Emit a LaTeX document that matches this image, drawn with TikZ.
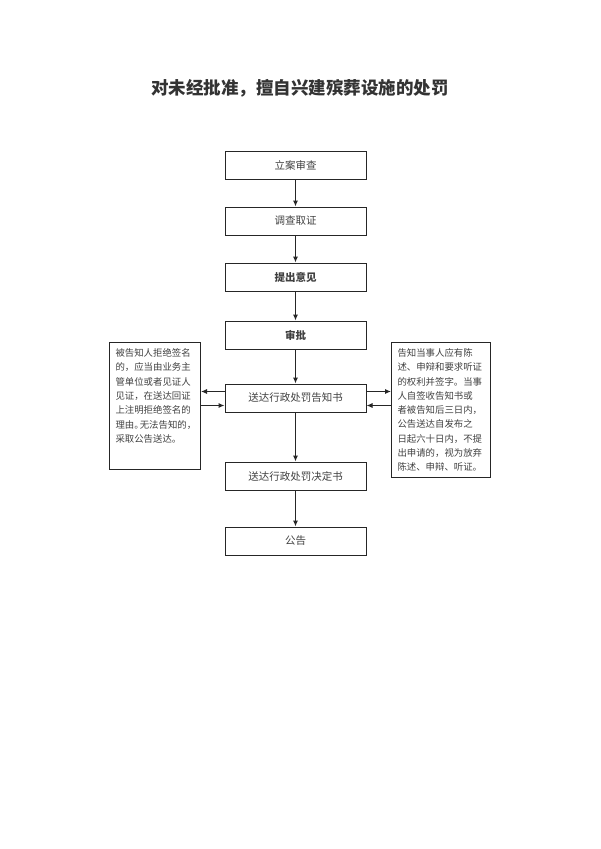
\documentclass[tikz,border=0pt]{standalone}
\usepackage{fontspec}
\setmainfont{Noto Sans CJK SC}
\usepackage{tikz}
\usetikzlibrary{positioning}
\usetikzlibrary{arrows,arrows.meta}

\newcommand{\halfpunct}[1]{\makebox[5.5pt][l]{#1}}

\begin{document}
\begin{tikzpicture}
		[x=1pt, y=1pt, node distance={27pt}, line width=1pt,
		 box/.style = {draw=black!85, minimum width=141pt, minimum height=28pt, inner sep=0pt, text=black!75, font=\fontsize{10.5}{12}\selectfont},
		 note/.style = {draw=black!85, anchor=north west, inner xsep=6pt, inner ysep=6pt, text=black!75, font=\fontsize{9.4}{14.3}\selectfont},
		 flow/.style = {-{Latex[length=6pt,width=5pt]}, draw=black!85}]
        \useasboundingbox (0,0) rectangle (600,-849);

        \node (title) at (300,-88) {\fontsize{17.5}{20}\selectfont\bfseries\color{black!80}对未经批准，擅自兴建殡葬设施的处罚};

        \node[box] (case) at (295.5,-165) {立案审查};
        \node[box] (probe) [below = of case] {调查取证};
        \node[box] (opinion) [below = of probe] {\bfseries 提出意见};
        \node[box] (approve) [below = 29pt of opinion] {\bfseries 审批};
        \node[box] (notice) [below = 34pt of approve] {送达行政处罚告知书};
        \node[box] (decide) [below = 49pt of notice] {送达行政处罚决定书};
        \node[box] (publish) [below = 36pt of decide] {公告};

        \node[note] (refuse) at (109,-342) {\parbox[t][115pt][t]{79pt}{被告知人拒绝签名\\的，应当由业务主\\管单位或者见证人\\见证，在送达回证\\上注明拒绝签名的\\\mbox{理由\halfpunct{。}无法告知的\halfpunct{，}}\\采取公告送达。}};
        \node[note] (rights) at (391,-342) {\parbox[t][123pt][t]{87pt}{告知当事人应有陈\\述、申辩和要求听证\\的权利并签字。当事\\人自签收告知书或\\者被告知后三日内，\\公告送达自发布之\\日起六十日内，不提\\出申请的，视为放弃\\陈述、申辩、听证。}};

        \draw[flow] (case) -- (probe);
        \draw[flow] (probe) -- (opinion);
        \draw[flow] (opinion) -- (approve);
        \draw[flow] (approve) -- (notice);
        \draw[flow] (notice) -- (decide);
        \draw[flow] (decide) -- (publish);

        \draw[flow] ([yshift=6.5pt]notice.west) -- ([yshift=6.5pt]notice.west -| refuse.east);
        \draw[flow] ([yshift=-7.5pt]notice.west -| refuse.east) -- ([yshift=-7.5pt]notice.west);
        \draw[flow] ([yshift=6.5pt]notice.east) -- ([yshift=6.5pt]notice.east -| rights.west);
        \draw[flow] ([yshift=-7.5pt]notice.east -| rights.west) -- ([yshift=-7.5pt]notice.east);
	\end{tikzpicture}
\end{document}
